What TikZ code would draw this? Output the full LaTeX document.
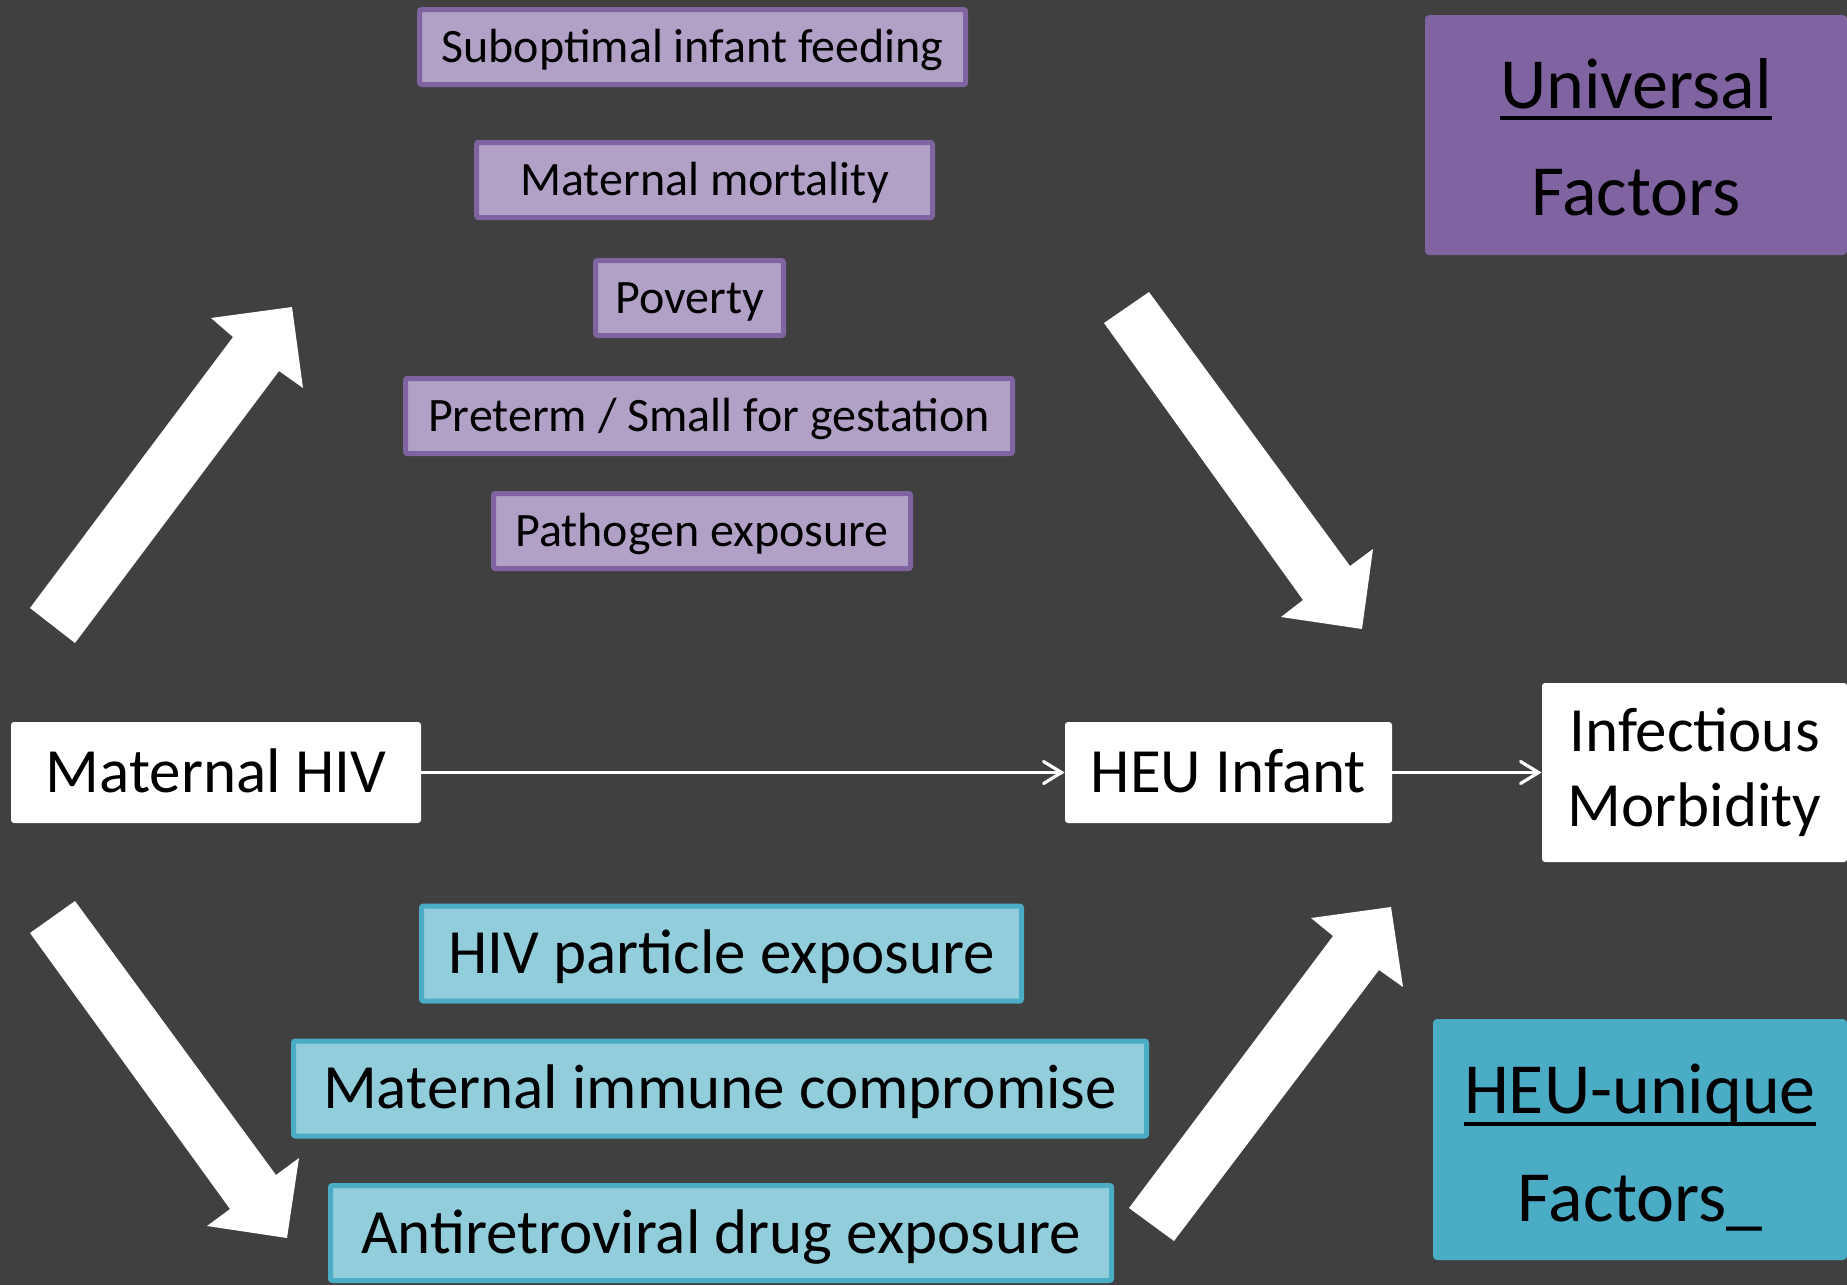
\documentclass[tikz,border=0pt]{standalone}
\usepackage{fontspec}
\setmainfont{Carlito}
\usetikzlibrary{calc,arrows.meta}
\definecolor{bgc}{HTML}{404040}
\definecolor{uvp}{HTML}{8064A2}
\definecolor{lvp}{HTML}{B2A1C7}
\definecolor{heub}{HTML}{4BACC6}
\definecolor{lbb}{HTML}{92CDDC}
\tikzset{
  pbox/.style={draw=uvp, line width=2.5pt, fill=lvp, rounded corners=1pt,
    font=\fontsize{24}{28}\selectfont, text height=17.9pt, text depth=2.4pt,
    inner sep=0pt, minimum height=37.5pt},
  bbox/.style={draw=heub, line width=2.5pt, fill=lbb, rounded corners=1pt,
    font=\fontsize{31.5}{37.8}\selectfont, text height=23.4pt, text depth=3.1pt,
    inner sep=0pt, minimum height=47.5pt},
  wbox/.style={fill=white, rounded corners=1.5pt, inner sep=0pt,
    font=\fontsize{31.5}{37.5}\selectfont, text height=23.4pt, text depth=3.1pt,
    minimum height=50.5pt},
  tbox/.style={rounded corners=2pt, inner sep=0pt},
  ttext/.style={inner sep=0pt, anchor=base, font=\fontsize{36}{43}\selectfont},
  uline/.style={black, line width=2pt},
  thin/.style={white, line width=1.6pt, line cap=round,
    -{Straight Barb[length=9pt,width=11pt,line cap=round]}},
  blockarrow/.style={fill=white}
}
\begin{document}
\begin{tikzpicture}[x=0.5pt,y=-0.5pt]
\useasboundingbox (0,0) rectangle (1847,1285);
\fill[bgc] (0,0) rectangle (1847,1285);

% universal factors boxes
\node[pbox, minimum width=273pt]   (feed)  at (692.5,47)  {Suboptimal infant feeding};
\node[pbox, minimum width=228pt]   (mort)  at (704.5,180) {Maternal mortality};
\node[pbox, minimum width=94pt]    (pov)   at (689.5,298) {Poverty};
\node[pbox, minimum width=303.5pt] (pre)   at (709,416)   {Preterm / Small for gestation};
\node[pbox, minimum width=208.5pt] (path)  at (702,531)   {Pathogen exposure};

% HEU-unique boxes
\node[bbox, minimum width=300pt]   (part)  at (721.5,953.5) {HIV particle exposure};
\node[bbox, minimum width=426.5pt] (immu)  at (720,1088.5)  {Maternal immune compromise};
\node[bbox, minimum width=390.5pt] (arv)   at (721,1233)    {Antiretroviral drug exposure};

% main chain
\node[wbox, minimum width=205pt]   (mhiv)  at (216,772.5)    {Maternal HIV};
\node[wbox, minimum width=163.5pt] (heu)   at (1228.5,772.5) {HEU Infant};
\node[wbox, minimum width=152.5pt, minimum height=89.5pt, align=center,
      text height=, text depth=] (inf) at (1694.5,772.5) {Infectious\\Morbidity};

\draw[thin] (mhiv.east) -- (heu.west);
\draw[thin] (heu.east) -- (inf.west);

% legend boxes
\node[tbox, fill=uvp, minimum width=211pt, minimum height=120pt] (univ) at (1636,135) {};
\node[ttext] (ut) at (1636,108) {Universal};
\node[ttext] (uf) at (1636,215) {Factors};
\draw[uline] ($(ut.base west)+(0,10)$) -- ($(ut.base east)+(0,10)$);

\node[tbox, fill=heub, minimum width=207pt, minimum height=120.5pt] (heuu) at (1640,1139.5) {};
\node[ttext] (ht) at (1640,1113) {HEU-unique};
\node[ttext] (hf) at (1640,1221) {Factors\_};
\draw[uline] ($(ht.base west)+(0,11)$) -- ($(ht.base east)+(0,11)$);

% block arrows
\fill[blockarrow] (30,608) -- (233,337) -- (211,318) -- (292,307) -- (303,388) -- (279,371) -- (75,643) -- cycle;
\fill[blockarrow] (1149,292) -- (1350,566) -- (1373,549) -- (1362,629) -- (1281,617) -- (1303,600) -- (1104,323) -- cycle;
\fill[blockarrow] (75,901) -- (276,1175) -- (299,1158) -- (287,1238) -- (207,1226) -- (230,1209) -- (30,933) -- cycle;
\fill[blockarrow] (1129,1208) -- (1333,936) -- (1311,918) -- (1391,907) -- (1403,987) -- (1379,970) -- (1174,1241) -- cycle;
\end{tikzpicture}
\end{document}
